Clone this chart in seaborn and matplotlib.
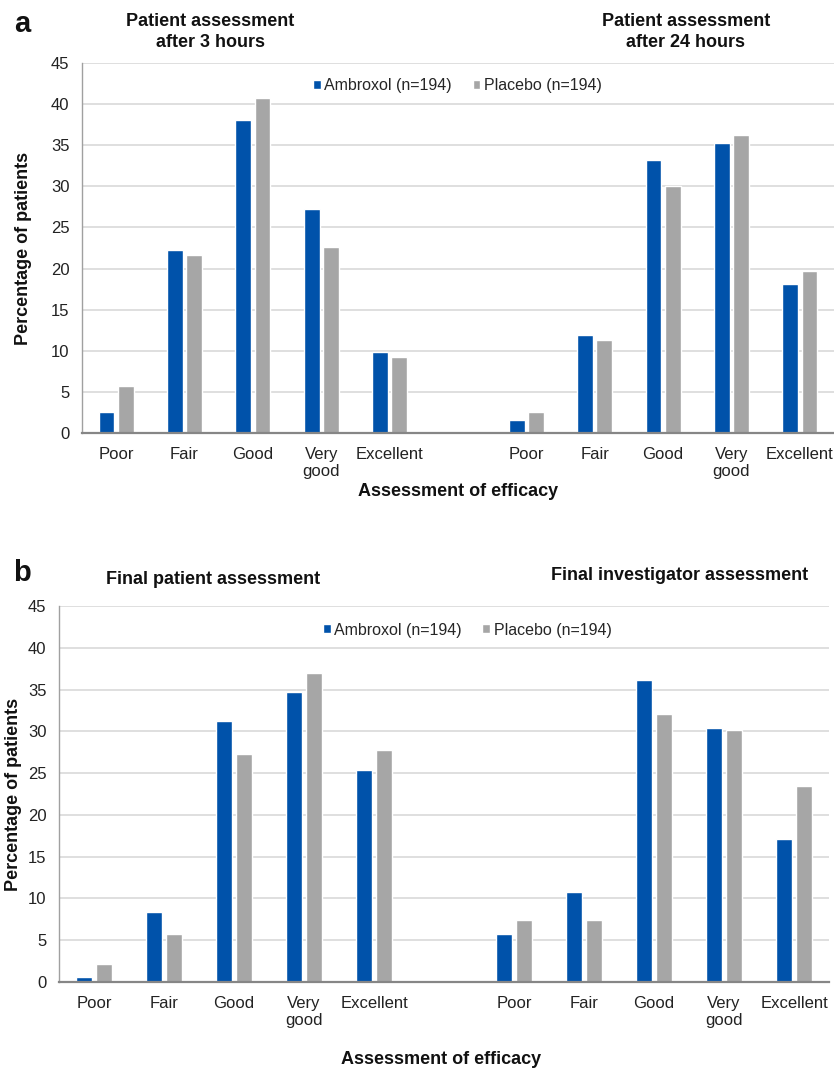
import numpy as np
import pandas as pd
import matplotlib
matplotlib.use("Agg")
import matplotlib.pyplot as plt
import seaborn as sns

# ratings on the x axis and the two treatment groups
ratings = ["Poor", "Fair", "Good", "Very good", "Excellent"]
tick_text = ["Poor", "Fair", "Good", "Very\ngood", "Excellent"]
groups = ["Ambroxol (n=194)", "Placebo (n=194)"]

# panel a: patient assessment after 3 h / after 24 h (% of patients)
ambroxol_3h = [2.6, 22.2, 38.1, 27.3, 9.8]
placebo_3h = [5.7, 21.6, 40.7, 22.6, 9.3]
ambroxol_24h = [1.6, 11.9, 33.2, 35.3, 18.1]
placebo_24h = [2.5, 11.3, 30.0, 36.3, 19.7]

# panel b: final patient / final investigator assessment
ambroxol_pat = [0.6, 8.4, 31.2, 34.7, 25.4]
placebo_pat = [2.1, 5.7, 27.3, 37.0, 27.8]
ambroxol_inv = [5.8, 10.8, 36.1, 30.4, 17.1]
placebo_inv = [7.4, 7.4, 32.1, 30.1, 23.4]

panel_a_titles = ["Patient assessment\nafter 3 hours", "Patient assessment\nafter 24 hours"]
panel_b_titles = ["Final patient assessment", "Final investigator assessment"]

BLUE = "#0052AA"
GREY = "#A6A6A6"

order = ["L" + r for r in ratings] + ["gap"] + ["R" + r for r in ratings]


def panel_frame(left_a, left_p, right_a, right_p):
    rows = []
    for side, amb, pla in (("L", left_a, left_p), ("R", right_a, right_p)):
        for r, a, p in zip(ratings, amb, pla):
            rows.append((side + r, groups[0], a))
            rows.append((side + r, groups[1], p))
    return pd.DataFrame(rows, columns=["slot", "group", "pct"])


sns.set_style("white")
plt.rcParams["font.family"] = ["Liberation Sans", "DejaVu Sans"]

W, H = 834, 1068
fig = plt.figure(figsize=(W / 100, H / 100), dpi=100)


def fx(x):
    return x / W


def fy(y):
    return 1 - y / H


def draw_panel(ax, df, leg_xy):
    sns.barplot(data=df, x="slot", y="pct", hue="group", order=order,
                hue_order=groups, palette=[BLUE, GREY], saturation=1,
                width=0.56, gap=0.18, errorbar=None, ax=ax)
    ax.set_xlim(-0.5, 10.5)
    ax.set_ylim(0, 45)
    ax.set_yticks(range(0, 46, 5))
    ax.set_xticks(range(11))
    ax.set_xticklabels(tick_text + [""] + tick_text, linespacing=1.15)
    ax.tick_params(axis="both", length=0, labelsize=12, colors="#222222")
    ax.tick_params(axis="x", pad=10)
    ax.tick_params(axis="y", pad=9)
    ax.set_xlabel("")
    ax.set_ylabel("")
    ax.yaxis.grid(True, color="#D9D9D9", lw=1.2)
    ax.set_axisbelow(True)
    for s in ("top", "right"):
        ax.spines[s].set_visible(False)
    ax.spines["left"].set_color("#A0A0A0")
    ax.spines["left"].set_linewidth(1.0)
    ax.spines["bottom"].set_color("#868686")
    ax.spines["bottom"].set_linewidth(1.6)
    ax.legend(loc="center", bbox_to_anchor=leg_xy, ncol=2, frameon=False,
              fontsize=11.5, handlelength=0.5, handleheight=0.5,
              handletextpad=0.2, columnspacing=1.3)


# panel a
ax_a = fig.add_axes([fx(82), fy(433), (W - 82) / W, 370 / H])
draw_panel(ax_a, panel_frame(ambroxol_3h, placebo_3h, ambroxol_24h, placebo_24h),
           (0.499, 0.938))

# panel b
ax_b = fig.add_axes([fx(59), fy(982), 770 / W, 376 / H])
draw_panel(ax_b, panel_frame(ambroxol_pat, placebo_pat, ambroxol_inv, placebo_inv),
           (0.53, 0.936))

bold = dict(fontweight="bold", color="#111111")
fig.text(fx(22), fy(24), "a", fontsize=21, ha="center", va="center", **bold)
fig.text(fx(22), fy(573), "b", fontsize=21, ha="center", va="center", **bold)

fig.text(fx(210), fy(32), panel_a_titles[0], fontsize=13, ha="center", va="center",
         linespacing=1.25, **bold)
fig.text(fx(686), fy(32), panel_a_titles[1], fontsize=13, ha="center", va="center",
         linespacing=1.25, **bold)
fig.text(fx(213), fy(579), panel_b_titles[0], fontsize=13, ha="center", va="center", **bold)
fig.text(fx(680), fy(576), panel_b_titles[1], fontsize=13, ha="center", va="center", **bold)

fig.text(fx(458), fy(492), "Assessment of efficacy", fontsize=13, ha="center",
         va="center", **bold)
fig.text(fx(441), fy(1060), "Assessment of efficacy", fontsize=13, ha="center",
         va="center", **bold)

fig.text(fx(24), fy(248), "Percentage of patients", fontsize=13, rotation=90,
         ha="center", va="center", **bold)
fig.text(fx(14), fy(794), "Percentage of patients", fontsize=13, rotation=90,
         ha="center", va="center", **bold)

fig.savefig("out.png", dpi=100, facecolor="white")
